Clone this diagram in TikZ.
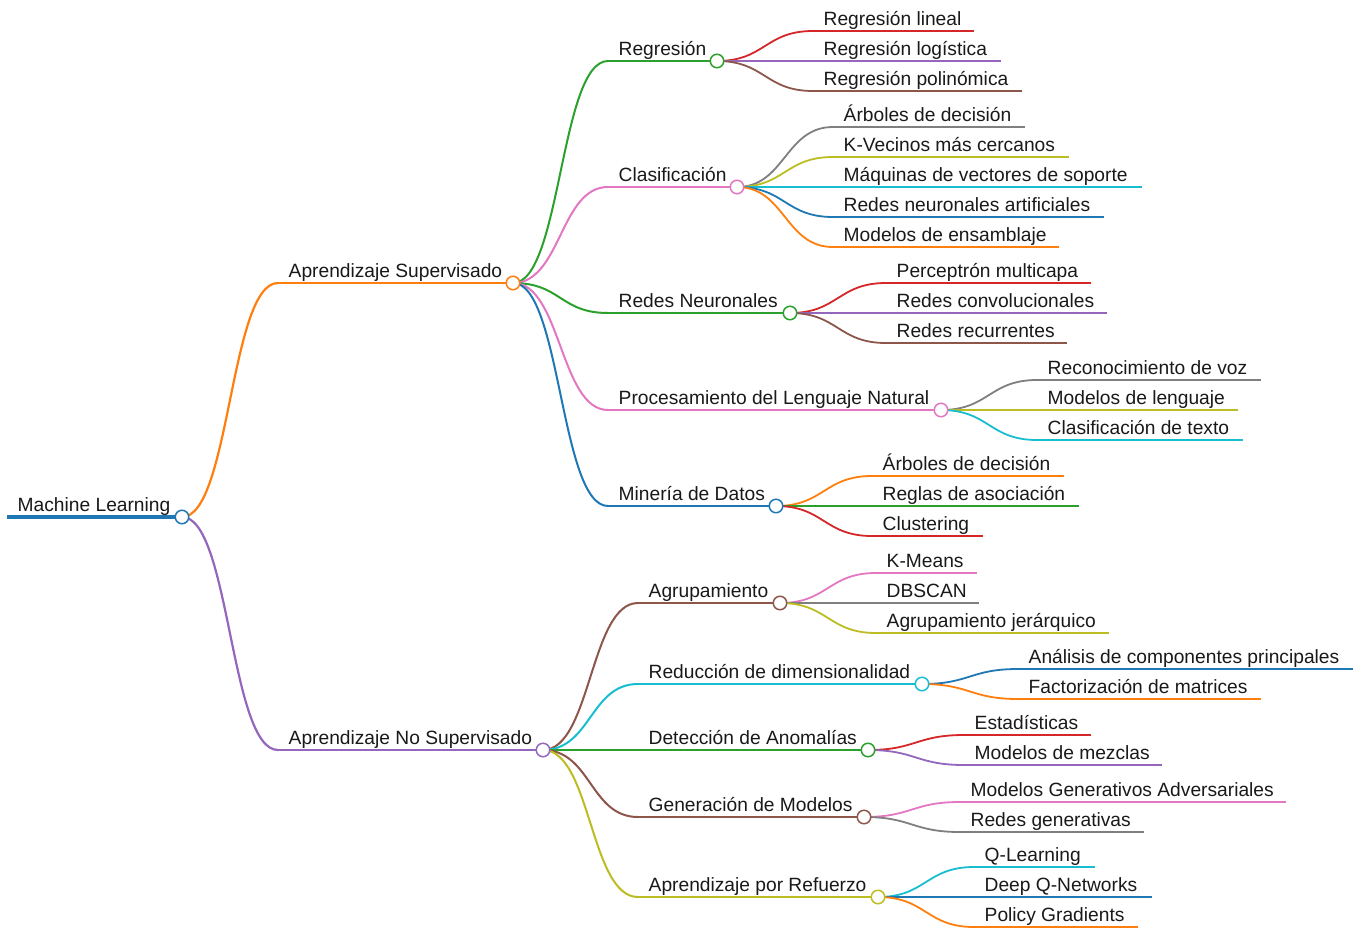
\documentclass[tikz,border=0pt]{standalone}
\usepackage{fontspec}
\setmainfont{Liberation Sans}
\usetikzlibrary{backgrounds}
\definecolor{cblue}{HTML}{1F77B4}
\definecolor{corange}{HTML}{FF7F0E}
\definecolor{cgreen}{HTML}{2CA02C}
\definecolor{cred}{HTML}{D62728}
\definecolor{cpurple}{HTML}{9467BD}
\definecolor{cbrown}{HTML}{8C564B}
\definecolor{cpink}{HTML}{E377C2}
\definecolor{cgray}{HTML}{7F7F7F}
\definecolor{colive}{HTML}{BCBD22}
\definecolor{ccyan}{HTML}{17BECF}
\begin{document}
\begin{tikzpicture}[x=1pt,y=-1pt,
    w0/.style={line width=4.5pt},
    w1/.style={line width=2.2pt},
    w2/.style={line width=2pt},
    w3/.style={line width=1.8pt},
    link/.style={to path={(\tikztostart.center) .. controls +(48,0) and +(-48,0) .. (\tikztotarget)}}]

        \useasboundingbox (0,0) rectangle (1360,927);

        \coordinate (s0)   at (7,517);
        \coordinate (s1)   at (278,283);
        \coordinate (s2)   at (278,750);
        \coordinate (s11)  at (608,61);
        \coordinate (s12)  at (608,187);
        \coordinate (s13)  at (608,313);
        \coordinate (s14)  at (608,410);
        \coordinate (s15)  at (608,506);
        \coordinate (s21)  at (638,603);
        \coordinate (s22)  at (638,684);
        \coordinate (s23)  at (638,750);
        \coordinate (s24)  at (638,817);
        \coordinate (s25)  at (638,897);
        \coordinate (s111) at (813,31);
        \coordinate (s112) at (813,61);
        \coordinate (s113) at (813,91);
        \coordinate (s121) at (833,127);
        \coordinate (s122) at (833,157);
        \coordinate (s123) at (833,187);
        \coordinate (s124) at (833,217);
        \coordinate (s125) at (833,247);
        \coordinate (s131) at (886,283);
        \coordinate (s132) at (886,313);
        \coordinate (s133) at (886,343);
        \coordinate (s141) at (1037,380);
        \coordinate (s142) at (1037,410);
        \coordinate (s143) at (1037,440);
        \coordinate (s151) at (872,476);
        \coordinate (s152) at (872,506);
        \coordinate (s153) at (872,536);
        \coordinate (s211) at (876,573);
        \coordinate (s212) at (876,603);
        \coordinate (s213) at (876,633);
        \coordinate (s221) at (1018,669);
        \coordinate (s222) at (1018,699);
        \coordinate (s231) at (964,735);
        \coordinate (s232) at (964,765);
        \coordinate (s241) at (960,802);
        \coordinate (s242) at (960,832);
        \coordinate (s251) at (974,867);
        \coordinate (s252) at (974,897);
        \coordinate (s253) at (974,927);

        \coordinate (111) at (974,31);
        \coordinate (112) at (1001,61);
        \coordinate (113) at (1022,91);
        \coordinate (121) at (1025,127);
        \coordinate (122) at (1069,157);
        \coordinate (123) at (1142,187);
        \coordinate (124) at (1104,217);
        \coordinate (125) at (1059,247);
        \coordinate (131) at (1091,283);
        \coordinate (132) at (1107,313);
        \coordinate (133) at (1067,343);
        \coordinate (141) at (1261,380);
        \coordinate (142) at (1238,410);
        \coordinate (143) at (1243,440);
        \coordinate (151) at (1064,476);
        \coordinate (152) at (1079,506);
        \coordinate (153) at (983,536);
        \coordinate (211) at (977,573);
        \coordinate (212) at (979,603);
        \coordinate (213) at (1109,633);
        \coordinate (221) at (1353,669);
        \coordinate (222) at (1261,699);
        \coordinate (231) at (1091,735);
        \coordinate (232) at (1162,765);
        \coordinate (241) at (1286,802);
        \coordinate (242) at (1144,832);
        \coordinate (251) at (1095,867);
        \coordinate (252) at (1152,897);
        \coordinate (253) at (1138,927);

        \begin{scope}[every node/.style={circle,fill=white,line width=1.5pt,minimum size=13.5pt,inner sep=0pt}]
          \node[draw=cblue]   (0)  at (182,517) {};
          \node[draw=corange] (1)  at (513,283) {};
          \node[draw=cpurple] (2)  at (543,750) {};
          \node[draw=cgreen]  (11) at (717,61)  {};
          \node[draw=cpink]   (12) at (737,187) {};
          \node[draw=cgreen]  (13) at (790,313) {};
          \node[draw=cpink]   (14) at (941,410) {};
          \node[draw=cblue]   (15) at (776,506) {};
          \node[draw=cbrown]  (21) at (780,603) {};
          \node[draw=ccyan]   (22) at (922,684) {};
          \node[draw=cgreen]  (23) at (868,750) {};
          \node[draw=cbrown]  (24) at (864,817) {};
          \node[draw=colive]  (25) at (878,897) {};
        \end{scope}

        \begin{pgfonlayer}{background}
          \begin{scope}[every edge/.style={draw,link}]
            \path (0)  edge[corange,w1] (s1);
            \path (0)  edge[cpurple,w1] (s2);
            \path (1)  edge[cgreen,w2]  (s11);
            \path (1)  edge[cpink,w2]   (s12);
            \path (1)  edge[cgreen,w2]  (s13);
            \path (1)  edge[cpink,w2]   (s14);
            \path (1)  edge[cblue,w2]   (s15);
            \path (2)  edge[cbrown,w2]  (s21);
            \path (2)  edge[ccyan,w2]   (s22);
            \path (2)  edge[cgreen,w2]  (s23);
            \path (2)  edge[cbrown,w2]  (s24);
            \path (2)  edge[colive,w2]  (s25);
            \path (11) edge[cred,w3]    (s111);
            \path (11) edge[cpurple,w3] (s112);
            \path (11) edge[cbrown,w3]  (s113);
            \path (12) edge[cgray,w3]   (s121);
            \path (12) edge[colive,w3]  (s122);
            \path (12) edge[ccyan,w3]   (s123);
            \path (12) edge[cblue,w3]   (s124);
            \path (12) edge[corange,w3] (s125);
            \path (13) edge[cred,w3]    (s131);
            \path (13) edge[cpurple,w3] (s132);
            \path (13) edge[cbrown,w3]  (s133);
            \path (14) edge[cgray,w3]   (s141);
            \path (14) edge[colive,w3]  (s142);
            \path (14) edge[ccyan,w3]   (s143);
            \path (15) edge[corange,w3] (s151);
            \path (15) edge[cgreen,w3]  (s152);
            \path (15) edge[cred,w3]    (s153);
            \path (21) edge[cpink,w3]   (s211);
            \path (21) edge[cgray,w3]   (s212);
            \path (21) edge[colive,w3]  (s213);
            \path (22) edge[cblue,w3]   (s221);
            \path (22) edge[corange,w3] (s222);
            \path (23) edge[cred,w3]    (s231);
            \path (23) edge[cpurple,w3] (s232);
            \path (24) edge[cpink,w3]   (s241);
            \path (24) edge[cgray,w3]   (s242);
            \path (25) edge[ccyan,w3]   (s251);
            \path (25) edge[cblue,w3]   (s252);
            \path (25) edge[corange,w3] (s253);
          \end{scope}

          \draw[cblue,w0]   (s0)  -- (0);
          \draw[corange,w1] (s1)  -- (1);
          \draw[cpurple,w1] (s2)  -- (2);
          \draw[cgreen,w2]  (s11) -- (11);
          \draw[cpink,w2]   (s12) -- (12);
          \draw[cgreen,w2]  (s13) -- (13);
          \draw[cpink,w2]   (s14) -- (14);
          \draw[cblue,w2]   (s15) -- (15);
          \draw[cbrown,w2]  (s21) -- (21);
          \draw[ccyan,w2]   (s22) -- (22);
          \draw[cgreen,w2]  (s23) -- (23);
          \draw[cbrown,w2]  (s24) -- (24);
          \draw[colive,w2]  (s25) -- (25);
          \draw[cred,w3]    (s111) -- (111);
          \draw[cpurple,w3] (s112) -- (112);
          \draw[cbrown,w3]  (s113) -- (113);
          \draw[cgray,w3]   (s121) -- (121);
          \draw[colive,w3]  (s122) -- (122);
          \draw[ccyan,w3]   (s123) -- (123);
          \draw[cblue,w3]   (s124) -- (124);
          \draw[corange,w3] (s125) -- (125);
          \draw[cred,w3]    (s131) -- (131);
          \draw[cpurple,w3] (s132) -- (132);
          \draw[cbrown,w3]  (s133) -- (133);
          \draw[cgray,w3]   (s141) -- (141);
          \draw[colive,w3]  (s142) -- (142);
          \draw[ccyan,w3]   (s143) -- (143);
          \draw[corange,w3] (s151) -- (151);
          \draw[cgreen,w3]  (s152) -- (152);
          \draw[cred,w3]    (s153) -- (153);
          \draw[cpink,w3]   (s211) -- (211);
          \draw[cgray,w3]   (s212) -- (212);
          \draw[colive,w3]  (s213) -- (213);
          \draw[cblue,w3]   (s221) -- (221);
          \draw[corange,w3] (s222) -- (222);
          \draw[cred,w3]    (s231) -- (231);
          \draw[cpurple,w3] (s232) -- (232);
          \draw[cpink,w3]   (s241) -- (241);
          \draw[cgray,w3]   (s242) -- (242);
          \draw[ccyan,w3]   (s251) -- (251);
          \draw[cblue,w3]   (s252) -- (252);
          \draw[corange,w3] (s253) -- (253);
        \end{pgfonlayer}

        \begin{scope}[every node/.style={anchor=base west,inner sep=0pt,xshift=10.5pt,yshift=5.5pt,
            text=black!90,font=\fontsize{19.2}{23}\selectfont}]
          \node (t0)   at (s0)   {Machine Learning};
          \node (t1)   at (s1)   {Aprendizaje Supervisado};
          \node (t2)   at (s2)   {Aprendizaje No Supervisado};
          \node (t11)  at (s11)  {Regresión};
          \node (t12)  at (s12)  {Clasificación};
          \node (t13)  at (s13)  {Redes Neuronales};
          \node (t14)  at (s14)  {Procesamiento del Lenguaje Natural};
          \node (t15)  at (s15)  {Minería de Datos};
          \node (t21)  at (s21)  {Agrupamiento};
          \node (t22)  at (s22)  {Reducción de dimensionalidad};
          \node (t23)  at (s23)  {Detección de Anomalías};
          \node (t24)  at (s24)  {Generación de Modelos};
          \node (t25)  at (s25)  {Aprendizaje por Refuerzo};
          \node (t111) at (s111) {Regresión lineal};
          \node (t112) at (s112) {Regresión logística};
          \node (t113) at (s113) {Regresión polinómica};
          \node (t121) at (s121) {Árboles de decisión};
          \node (t122) at (s122) {K-Vecinos más cercanos};
          \node (t123) at (s123) {Máquinas de vectores de soporte};
          \node (t124) at (s124) {Redes neuronales artificiales};
          \node (t125) at (s125) {Modelos de ensamblaje};
          \node (t131) at (s131) {Perceptrón multicapa};
          \node (t132) at (s132) {Redes convolucionales};
          \node (t133) at (s133) {Redes recurrentes};
          \node (t141) at (s141) {Reconocimiento de voz};
          \node (t142) at (s142) {Modelos de lenguaje};
          \node (t143) at (s143) {Clasificación de texto};
          \node (t151) at (s151) {Árboles de decisión};
          \node (t152) at (s152) {Reglas de asociación};
          \node (t153) at (s153) {Clustering};
          \node (t211) at (s211) {K-Means};
          \node (t212) at (s212) {DBSCAN};
          \node (t213) at (s213) {Agrupamiento jerárquico};
          \node (t221) at (s221) {Análisis de componentes principales};
          \node (t222) at (s222) {Factorización de matrices};
          \node (t231) at (s231) {Estadísticas};
          \node (t232) at (s232) {Modelos de mezclas};
          \node (t241) at (s241) {Modelos Generativos Adversariales};
          \node (t242) at (s242) {Redes generativas};
          \node (t251) at (s251) {Q-Learning};
          \node (t252) at (s252) {Deep Q-Networks};
          \node (t253) at (s253) {Policy Gradients};
        \end{scope}

      \end{tikzpicture}
\end{document}
